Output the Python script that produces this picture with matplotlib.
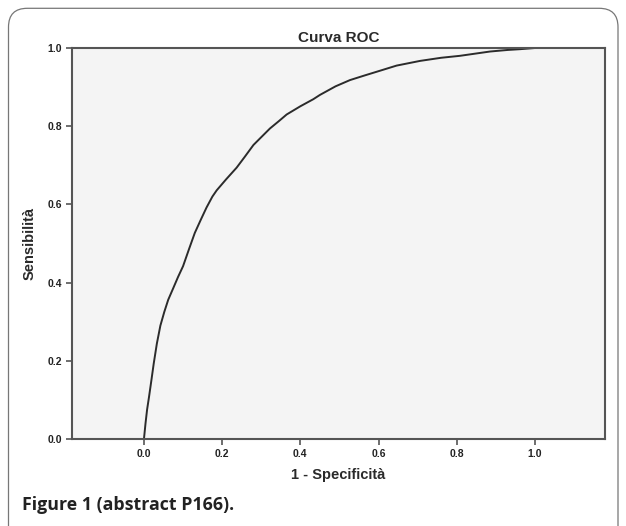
import matplotlib
matplotlib.use("Agg")
import matplotlib.pyplot as plt
from matplotlib.patches import FancyBboxPatch

# ROC curve points
fpr = [0.0, 0.004, 0.008, 0.013, 0.019, 0.025, 0.033, 0.042, 0.052, 0.062, 0.075,
       0.087, 0.100, 0.115, 0.130, 0.145, 0.160, 0.175, 0.186, 0.210, 0.237, 0.258,
       0.280, 0.300, 0.322, 0.345, 0.365, 0.400, 0.433, 0.450, 0.490, 0.527, 0.565,
       0.604, 0.646, 0.706, 0.760, 0.808, 0.850, 0.885, 0.930, 0.962, 1.0]
tpr = [0.0, 0.040, 0.075, 0.108, 0.150, 0.193, 0.244, 0.290, 0.325, 0.356, 0.386,
       0.414, 0.442, 0.485, 0.527, 0.560, 0.592, 0.620, 0.636, 0.664, 0.694, 0.722,
       0.752, 0.772, 0.794, 0.813, 0.830, 0.851, 0.869, 0.880, 0.902, 0.918, 0.930,
       0.942, 0.955, 0.967, 0.975, 0.980, 0.986, 0.991, 0.995, 0.997, 1.0]

xticks = [0.0, 0.2, 0.4, 0.6, 0.8, 1.0]
yticks = [0.0, 0.2, 0.4, 0.6, 0.8, 1.0]

title = "Curva ROC"
xlabel = "1 - Specificità"
ylabel = "Sensibilità"
caption = "Figure 1 (abstract P166)."

fig = plt.figure(figsize=(6.26, 5.26), dpi=100)
fig.patch.set_facecolor("white")

# rounded frame (open at the bottom)
frame = FancyBboxPatch((8.5 / 626, -0.05), (618 - 8.5) / 626, (518 + 26) / 526,
                       boxstyle="round,pad=0,rounding_size=0.03",
                       transform=fig.transFigure, facecolor="none",
                       edgecolor="#777777", linewidth=0.9, mutation_aspect=626 / 526)
fig.patches.append(frame)

ax = fig.add_axes([72 / 626, 1 - 439 / 526, (605 - 72) / 626, (439 - 48) / 526])
ax.set_facecolor("#f4f4f4")
ax.plot(fpr, tpr, color="#2b2b2b", linewidth=1.4)
ax.set_xlim(-0.184, 1.179)
ax.set_ylim(0, 1)
ax.set_xticks(xticks)
ax.set_yticks(yticks)
ax.set_xticklabels([f"{v:.1f}" for v in xticks])
ax.set_yticklabels([f"{v:.1f}" for v in yticks])
for s in ax.spines.values():
    s.set_color("#555555")
    s.set_linewidth(1.5)
ax.tick_params(axis="both", length=4, width=1.2, color="#555555",
               labelsize=7.5, labelcolor="#222222", pad=3)
for lab in ax.get_xticklabels() + ax.get_yticklabels():
    lab.set_fontweight("bold")
    lab.set_family("Liberation Sans")
ax.set_title(title, fontsize=11, fontweight="bold", family="Liberation Sans",
             color="#2a2a2a", pad=4)
ax.set_xlabel(xlabel, fontsize=10.5, fontweight="bold", family="Liberation Sans",
              color="#2a2a2a", labelpad=7)
ax.set_ylabel(ylabel, fontsize=10.5, fontweight="bold", family="Liberation Sans",
              color="#2a2a2a", labelpad=8)

fig.text(22 / 626, 1 - 505 / 526, caption, fontsize=12.8, fontweight="bold",
         family="Open Sans", color="#222222", va="center", ha="left")

fig.savefig("out.png", dpi=100)
